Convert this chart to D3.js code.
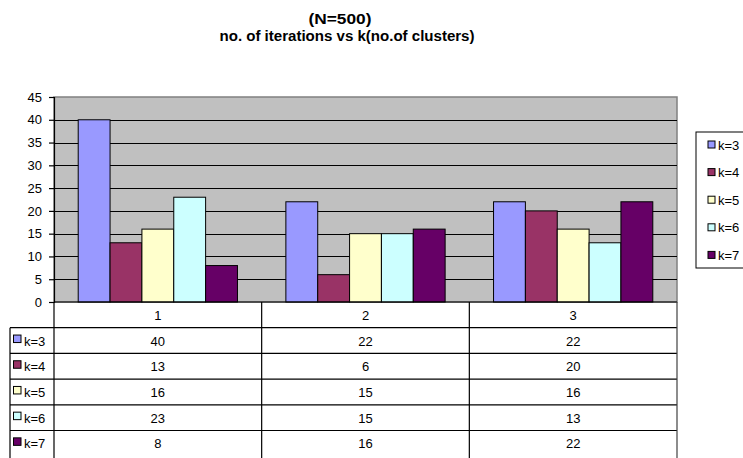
<!DOCTYPE html>
<html>
<head>
<meta charset="utf-8">
<script src="https://cdn.jsdelivr.net/npm/d3@7"></script>
<style>
  html, body { margin: 0; padding: 0; background: #fff; }
  svg { display: block; font-family: "Liberation Sans", Arial, sans-serif; }
</style>
</head>
<body>
<svg id="chart" width="743" height="458"></svg>
<script>
// Categories along the x axis (runs)
const categories = ["1", "2", "3"];
// Series: number of clusters
const seriesNames = ["k=3", "k=4", "k=5", "k=6", "k=7"];
const seriesColors = ["#9999FF", "#993366", "#FFFFCC", "#CCFFFF", "#660066"];
// Iteration counts per series, one value per category
const k3 = [40, 22, 22];
const k4 = [13, 6, 20];
const k5 = [16, 15, 16];
const k6 = [23, 15, 13];
const k7 = [8, 16, 22];
const yTicks = [0, 5, 10, 15, 20, 25, 30, 35, 40, 45];

const seriesValues = [k3, k4, k5, k6, k7];

const svg = d3.select("#chart");
const FS = 13;

// Layout
const plot = { left: 54, right: 677, top: 97, bottom: 302 };
const tableLeft = 10;
const rowH = 25.7;

// Title
svg.append("text")
  .attr("x", 340).attr("y", 23.5)
  .attr("text-anchor", "middle")
  .attr("font-size", 14).attr("font-weight", "bold")
  .attr("textLength", 63).attr("lengthAdjust", "spacingAndGlyphs")
  .text("(N=500)");
svg.append("text")
  .attr("x", 347).attr("y", 40.5)
  .attr("text-anchor", "middle")
  .attr("font-size", 14).attr("font-weight", "bold")
  .attr("textLength", 255).attr("lengthAdjust", "spacingAndGlyphs")
  .text("no. of iterations vs k(no.of clusters)");

// Scales
const x0 = d3.scaleBand().domain(categories).range([plot.left, plot.right]).padding(0);
const x1 = d3.scaleBand().domain(seriesNames).range([0, x0.bandwidth()])
  .paddingInner(0).paddingOuter(0.76);
const y = d3.scaleLinear().domain([0, 45]).range([plot.bottom, plot.top]);

// Plot background
svg.append("rect")
  .attr("x", plot.left).attr("y", plot.top)
  .attr("width", plot.right - plot.left).attr("height", plot.bottom - plot.top)
  .attr("fill", "#C0C0C0").attr("stroke", "#808080").attr("stroke-width", 1.5);

// Gridlines
svg.append("g").selectAll("line")
  .data(yTicks.filter(t => t > 0 && t < 45))
  .join("line")
  .attr("x1", plot.left).attr("x2", plot.right)
  .attr("y1", d => Math.round(y(d)) + 0.5).attr("y2", d => Math.round(y(d)) + 0.5)
  .attr("stroke", "#000").attr("stroke-width", 1.2);

// Bars
const groups = svg.append("g").selectAll("g")
  .data(categories)
  .join("g")
  .attr("transform", c => `translate(${x0(c)},0)`);

groups.selectAll("rect")
  .data((c, ci) => seriesNames.map((s, si) => ({ s, si, v: seriesValues[si][ci] })))
  .join("rect")
  .attr("x", d => x1(d.s))
  .attr("y", d => y(d.v))
  .attr("width", x1.bandwidth())
  .attr("height", d => y(0) - y(d.v))
  .attr("fill", d => seriesColors[d.si])
  .attr("stroke", "#000").attr("stroke-width", 1);

// Y axis
const yAxis = d3.axisLeft(y).tickValues(yTicks).tickSize(5).tickPadding(7);
const yg = svg.append("g").attr("transform", `translate(${plot.left},0)`).call(yAxis);
yg.select(".domain").attr("stroke", "#000").attr("stroke-width", 1.2);
yg.selectAll(".tick line").attr("stroke", "#000").attr("stroke-width", 1.2);
yg.selectAll(".tick text").attr("font-size", FS).attr("fill", "#000")
  .attr("font-family", "Liberation Sans, Arial, sans-serif");

// Data table below the plot
const table = svg.append("g");
const headerTop = plot.bottom;
const rowTops = seriesNames.map((s, i) => headerTop + rowH * (i + 1));

// Horizontal lines
table.append("line")
  .attr("x1", plot.left).attr("x2", plot.right)
  .attr("y1", headerTop).attr("y2", headerTop)
  .attr("stroke", "#000").attr("stroke-width", 1.2);
table.selectAll("line.row")
  .data(rowTops)
  .join("line")
  .attr("class", "row")
  .attr("x1", tableLeft).attr("x2", plot.right)
  .attr("y1", d => d).attr("y2", d => d)
  .attr("stroke", "#000").attr("stroke-width", 1.2);

// Vertical lines
const colEdges = categories.map(c => x0(c)).concat([plot.right]);
table.selectAll("line.col")
  .data(colEdges)
  .join("line")
  .attr("class", "col")
  .attr("x1", d => d).attr("x2", d => d)
  .attr("y1", headerTop).attr("y2", 470)
  .attr("stroke", (d, i) => i === colEdges.length - 1 ? "#404040" : "#000")
  .attr("stroke-width", 1.2);
table.append("line")
  .attr("x1", tableLeft).attr("x2", tableLeft)
  .attr("y1", rowTops[0]).attr("y2", 470)
  .attr("stroke", "#000").attr("stroke-width", 1.2);

// Header row: category labels
table.selectAll("text.head")
  .data(categories)
  .join("text")
  .attr("class", "head")
  .attr("x", c => x0(c) + x0.bandwidth() / 2)
  .attr("y", headerTop + rowH / 2 + 5)
  .attr("text-anchor", "middle")
  .attr("font-size", FS)
  .text(c => c);

// Series rows: swatch, name and values
seriesNames.forEach((s, si) => {
  const top = rowTops[si];
  table.append("rect")
    .attr("x", tableLeft + 3.5).attr("y", top + rowH / 2 - 5.5)
    .attr("width", 7.5).attr("height", 7.5)
    .attr("fill", seriesColors[si]).attr("stroke", "#000").attr("stroke-width", 1);
  table.append("text")
    .attr("x", tableLeft + 14).attr("y", top + rowH / 2 + 5)
    .attr("font-size", FS)
    .text(s);
  table.selectAll(null)
    .data(categories)
    .join("text")
    .attr("x", c => x0(c) + x0.bandwidth() / 2)
    .attr("y", top + rowH / 2 + 5)
    .attr("text-anchor", "middle")
    .attr("font-size", FS)
    .text((c, ci) => seriesValues[si][ci]);
});

// Legend
const legend = svg.append("g");
legend.append("rect")
  .attr("x", 696).attr("y", 132)
  .attr("width", 60).attr("height", 136)
  .attr("fill", "#fff").attr("stroke", "#000").attr("stroke-width", 1);
seriesNames.forEach((s, i) => {
  const cy = 144.5 + i * 27.6;
  legend.append("rect")
    .attr("x", 708).attr("y", cy - 3.5)
    .attr("width", 7).attr("height", 7)
    .attr("fill", seriesColors[i]).attr("stroke", "#000").attr("stroke-width", 1);
  legend.append("text")
    .attr("x", 718).attr("y", cy + 5)
    .attr("font-size", FS)
    .text(s);
});
</script>
</body>
</html>
